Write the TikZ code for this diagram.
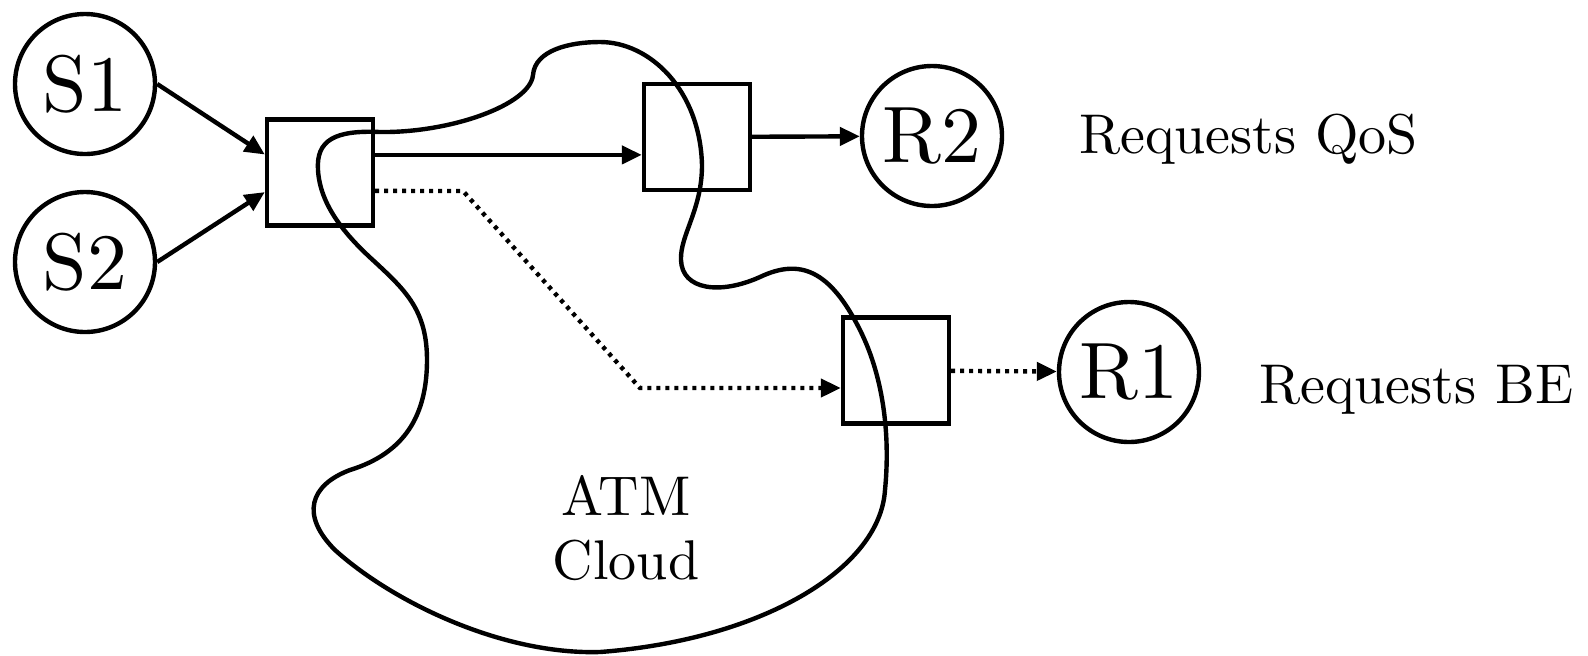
\documentclass[tikz,border=0pt]{standalone}
\usepackage{fontspec}
\setmainfont{lmroman10-regular.otf}
\usetikzlibrary{arrows.meta}
\begin{document}
\begin{tikzpicture}[x=0.25pt,y=-0.25pt,line width=1.1pt,
    host/.style={draw,circle,minimum size=35pt,inner sep=0pt,font=\fontsize{20}{24}\selectfont},
    switch/.style={draw,rectangle,minimum size=26.5pt,inner sep=0pt},
    flow/.style={-{Triangle[length=5pt,width=4.5pt]}},
    be/.style={flow,dash pattern=on 1pt off 1.25pt},
    note/.style={anchor=base west,inner sep=0pt,font=\fontsize{14}{16}\selectfont}]
    \useasboundingbox (0,0) rectangle (1588,655);
    % the cloud
    \draw (318,170) .. controls (316,140) and (335,130) .. (380,132)
        .. controls (450,133) and (530,105) .. (533,75)
        .. controls (535,50) and (570,42) .. (600,42)
        .. controls (650,42) and (700,90) .. (702,165)
        .. controls (702,210) and (680,235) .. (681,260)
        .. controls (682,290) and (720,295) .. (760,277)
        .. controls (800,258) and (830,270) .. (860,330)
        .. controls (885,380) and (890,440) .. (885,490)
        .. controls (880,570) and (760,640) .. (600,652)
        .. controls (500,655) and (390,600) .. (335,550)
        .. controls (300,515) and (310,485) .. (350,470)
        .. controls (405,453) and (427,415) .. (427,360)
        .. controls (427,310) and (405,290) .. (375,262)
        .. controls (345,235) and (320,205) .. (318,170) -- cycle;
    \node [align=center,font=\fontsize{14}{16}\selectfont] (cloud) at (626,528) {ATM\\Cloud};
    % hosts and switches
    \node [host] (s1) at (85,84) {S1};
    \node [host] (s2) at (85,262) {S2};
    \node [host] (r2) at (932,136) {R2};
    \node [host] (r1) at (1129,372) {R1};
    \node [switch] (sw1) at (320,172.5) {};
    \node [switch] (sw2) at (697,137) {};
    \node [switch] (sw3) at (896,370.5) {};
    \node [note] (qos) at (1077,153) {Requests QoS};
    \node [note] (besteff) at (1257,403) {Requests BE};
    % flows
    \draw [flow] (s1.east) -- ([yshift=4.5pt]sw1.west);
    \draw [flow] (s2.east) -- ([yshift=-4.9pt]sw1.west);
    \draw [flow] ([yshift=4.4pt]sw1.east) -- ([yshift=4.4pt]sw1.east -| sw2.west);
    \draw [flow] (sw2) -- (r2);
    \coordinate (bend1) at (463,191);
    \coordinate (bend2) at (640,388);
    \draw [be] ([yshift=-4.6pt]sw1.east) -- (bend1) -- (bend2) -- (bend2 -| sw3.west);
    \draw [be] (sw3) -- (r1);
\end{tikzpicture}
\end{document}
